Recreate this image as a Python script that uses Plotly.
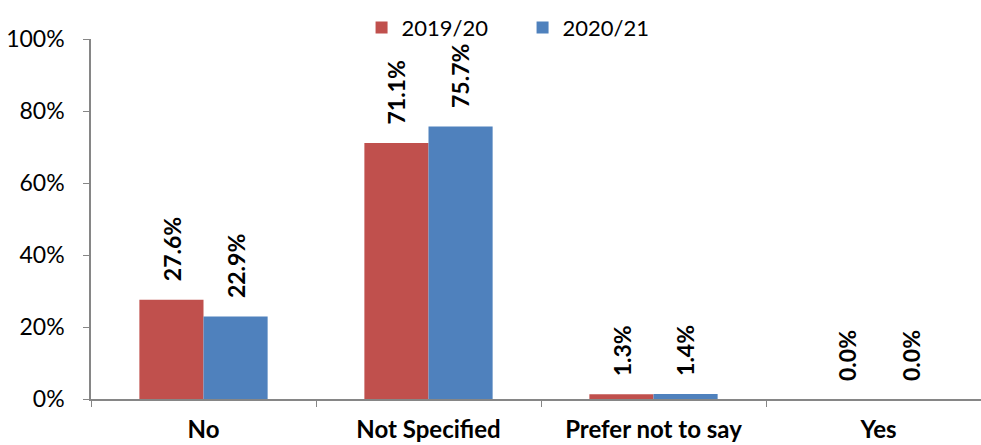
import plotly.graph_objects as go

categories = ["No", "Not Specified", "Prefer not to say", "Yes"]
series_names = ["2019/20", "2020/21"]
values_2019 = [27.6, 71.1, 1.3, 0.0]
values_2020 = [22.9, 75.7, 1.4, 0.0]
colors = ["#C0504D", "#4F81BD"]

FONT = "Lato, Carlito, Calibri, sans-serif"

fig = go.Figure()
for name, vals, col in zip(series_names, [values_2019, values_2020], colors):
    fig.add_trace(go.Bar(
        x=categories, y=vals, name=name,
        marker=dict(color=col, line=dict(width=0)),
    ))

# rotated value labels above each bar
for vals, shift in ((values_2019, -32), (values_2020, 32)):
    for cat, v in zip(categories, vals):
        fig.add_annotation(
            x=cat, y=v, xref="x", yref="y",
            text=f"<b>{v:.1f}%</b>", showarrow=False,
            textangle=-90, xanchor="center", yanchor="bottom",
            xshift=shift, yshift=16,
            font=dict(family=FONT, size=23, color="#000000"),
        )

fig.update_layout(
    width=981, height=445,
    margin=dict(l=91, r=0, t=39, b=46, autoexpand=False),
    paper_bgcolor="white", plot_bgcolor="white",
    barmode="group", bargap=0.43, bargroupgap=0,
    font=dict(family=FONT, size=22, color="#000000"),
    showlegend=True,
    legend=dict(
        orientation="h", x=0.304, xanchor="left",
        y=0.985, yanchor="top", yref="container",
        font=dict(family=FONT, size=22), itemwidth=30,
        entrywidth=116, entrywidthmode="pixels",
        tracegroupgap=0, bgcolor="rgba(0,0,0,0)",
    ),
)

fig.update_xaxes(
    type="category", range=[-0.5, 3.5 - 10 / 225],
    showline=True, linecolor="#868686", linewidth=1.5,
    ticks="outside", tickson="boundaries", ticklen=6, tickcolor="#868686",
    tickfont=dict(family=FONT, size=24, color="#000000", weight="bold"),
    ticklabelstandoff=8,
    showgrid=False, zeroline=False,
)
fig.update_yaxes(
    range=[0, 100], tickvals=[0, 20, 40, 60, 80, 100],
    ticktext=["0%", "20%", "40%", "60%", "80%", "100%"],
    showline=True, linecolor="#868686", linewidth=1.5,
    ticks="outside", ticklen=6, tickcolor="#868686",
    tickfont=dict(family=FONT, size=23, color="#000000"),
    ticklabelstandoff=14,
    showgrid=False, zeroline=False,
)

fig.write_html("out.html")
